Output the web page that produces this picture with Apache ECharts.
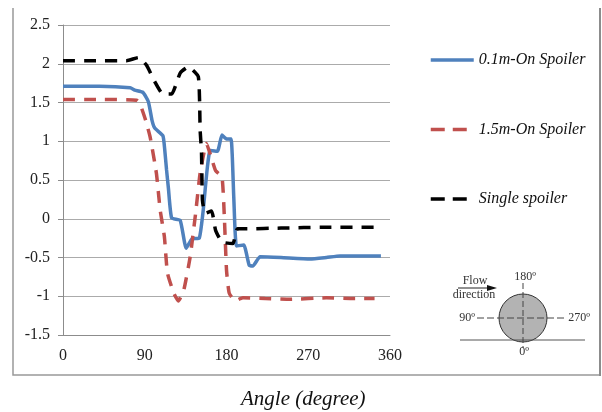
<!DOCTYPE html>
<html><head><meta charset="utf-8">
<style>html,body{margin:0;padding:0;background:#fff}#c{width:602px;height:412px}</style>
<script src="https://cdn.jsdelivr.net/npm/echarts@6/dist/echarts.min.js"></script></head>
<body><div id="c"></div>
<script>
const xTicks = [0, 90, 180, 270, 360];
const seriesNames = ['0.1m-On Spoiler', '1.5m-On Spoiler', 'Single spoiler'];
const blueAngles = [0,40,74,79,88,94,98,101,110,112,114,116,119.6,129,135.6,142,150,154,162,170,175,180,185,188,191,199,205,209,217,240,272,290,305,350];
const blueValues = [1.71,1.71,1.69,1.66,1.63,1.51,1.27,1.17,1.07,0.89,0.63,0.4,0.01,-0.02,-0.38,-0.26,-0.25,0.07,0.88,0.87,1.08,1.03,1.03,0.28,-0.35,-0.34,-0.6,-0.61,-0.49,-0.5,-0.52,-0.5,-0.48,-0.48];
const redAngles = [0,40,81,84.5,91,96,102.8,107,111.6,115,122,127,133,140,146,151,158,163.5,168,175,177.6,180,183,189.6,198,222.6,250,290,320,343];
const redValues = [1.54,1.54,1.53,1.49,1.27,1.05,0.59,0.11,-0.23,-0.7,-0.96,-1.06,-0.92,-0.49,0.07,0.59,0.97,0.78,0.62,0.54,0.03,-0.66,-0.96,-1.06,-1.02,-1.03,-1.04,-1.02,-1.03,-1.03];
const blackAngles = [0,40,70,83,92,101,110,119.6,129,138,149,151,152.5,153.5,156.5,163.5,168,175,187,192,202,240,290,343];
const blackValues = [2.04,2.04,2.04,2.08,1.98,1.77,1.61,1.61,1.88,1.96,1.83,1.14,0.85,0.24,0.07,0.1,-0.15,-0.3,-0.32,-0.13,-0.13,-0.12,-0.11,-0.11];
const colors = ['#4f81bd', '#c0504d', '#000'];
const zip = (a, b) => a.map((x, i) => [x, b[i]]);
const serif = '"Liberation Serif","Times New Roman",serif';
const chart = echarts.init(document.getElementById('c'), null, {renderer: 'canvas'});
const mk = (name, data, color, type, width) => ({
  name, type: 'line', data, showSymbol: false, symbol: 'none', smooth: 0.15,
  lineStyle: {color, width, type, cap: 'butt'}, itemStyle: {color}
});
const label = (x, y, text) => ({type: 'text', style: {x, y, text, align: 'center', verticalAlign: 'middle', font: '12px ' + serif, fill: '#333'}});
chart.setOption({
  animation: false,
  backgroundColor: '#fff',
  grid: {left: 63, top: 25, width: 327, height: 310, containLabel: false},
  title: {text: 'Angle (degree)', left: 236, top: 384,
    textStyle: {fontFamily: serif, fontStyle: 'italic', fontWeight: 'normal', fontSize: 21, color: '#111'}},
  xAxis: {type: 'value', min: 0, max: 360, interval: 90,
    axisLine: {onZero: false, lineStyle: {color: '#8c8c8c'}},
    axisTick: {show: false}, splitLine: {show: false},
    axisLabel: {fontFamily: serif, fontSize: 16, color: '#222', margin: 13}},
  yAxis: {type: 'value', min: -1.5, max: 2.5, interval: 0.5,
    axisLine: {show: true, lineStyle: {color: '#8c8c8c'}},
    axisTick: {show: true, length: 5, lineStyle: {color: '#8c8c8c'}},
    splitLine: {lineStyle: {color: '#ababab', width: 1}},
    axisLabel: {fontFamily: serif, fontSize: 16, color: '#222', margin: 13}},
  legend: {orient: 'vertical', left: 424, top: 47, itemWidth: 43, itemHeight: 12, itemGap: 53.5,
    itemStyle: {opacity: 0},
    data: seriesNames.map((name, i) => ({name, lineStyle: {color: colors[i], width: 3.5, type: i ? [14, 8] : 'solid'}})),
    textStyle: {fontFamily: serif, fontStyle: 'italic', fontSize: 16, color: '#111'}},
  series: [
    mk(seriesNames[0], zip(blueAngles, blueValues), colors[0], 'solid', 3.5),
    mk(seriesNames[1], zip(redAngles, redValues), colors[1], [12, 9], 3.5),
    mk(seriesNames[2], zip(blackAngles, blackValues), colors[2], [12, 9], 3.5)
  ],
  graphic: [
    {type: 'polyline', silent: true, shape: {points: [[13,8],[13,375],[600,375]]}, style: {fill: null, stroke: '#999', lineWidth: 1.5}},
    {type: 'line', silent: true, shape: {x1: 600, y1: 8, x2: 600, y2: 376}, style: {stroke: '#8c8c8c', lineWidth: 2}},
    {type: 'circle', shape: {cx: 523, cy: 318, r: 24}, style: {fill: '#b3b3b3', stroke: '#333', lineWidth: 1}},
    {type: 'line', shape: {x1: 460, y1: 340, x2: 585, y2: 340}, style: {stroke: '#555', lineWidth: 1}},
    {type: 'line', shape: {x1: 523, y1: 283, x2: 523, y2: 348}, style: {stroke: '#444', lineWidth: 1, lineDash: [6, 3]}},
    {type: 'line', shape: {x1: 477, y1: 318, x2: 567, y2: 318}, style: {stroke: '#444', lineWidth: 1, lineDash: [7, 3]}},
    {type: 'line', shape: {x1: 458, y1: 288, x2: 490, y2: 288}, style: {stroke: '#222', lineWidth: 1}},
    {type: 'polygon', shape: {points: [[497,288],[487,285],[487,291]]}, style: {fill: '#111'}},
    label(475, 281, 'Flow'), label(474, 295, 'direction'), label(525, 277, '180º'),
    label(467, 318, '90º'), label(579, 318, '270º'), label(524, 352, '0º')
  ]
});
</script></body></html>
